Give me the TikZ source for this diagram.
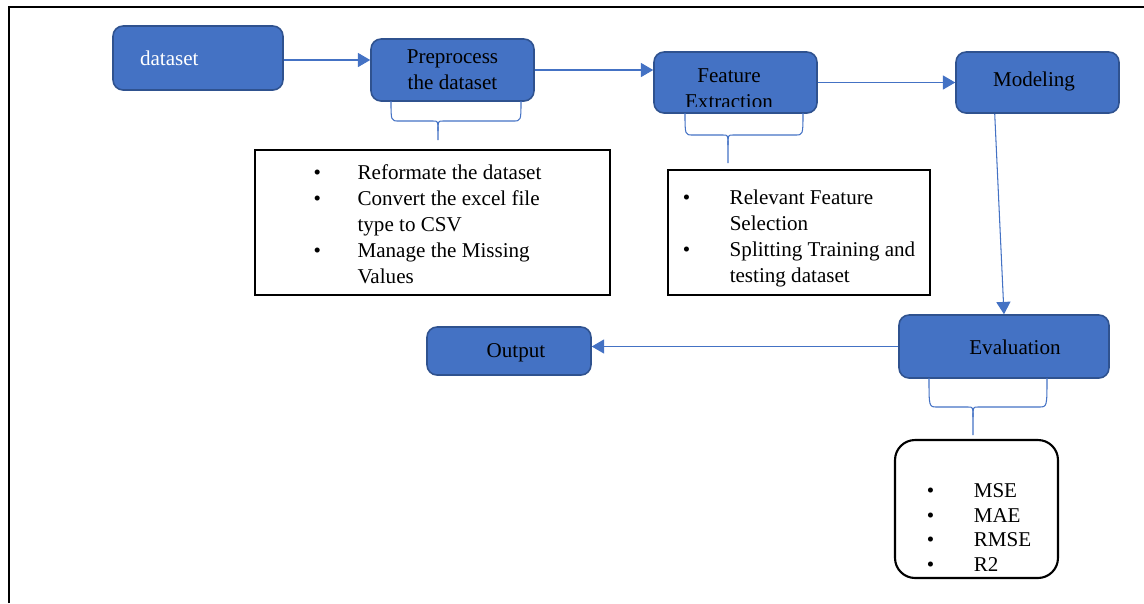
\documentclass[tikz,border=0pt]{standalone}
\usepackage{fontspec}
\setmainfont{Liberation Serif}
\usetikzlibrary{arrows.meta,calc}
\definecolor{boxblue}{HTML}{4472C4}
\definecolor{boxedge}{HTML}{2F528F}
\newcommand{\ubrace}[6]{%
  \draw[brace] (#1,#4) .. controls (#1,#5) .. (#1+8,#5) -- (#3-5,#5) .. controls (#3,#5) .. (#3,#5+10) -- (#3,#6);
  \draw[brace] (#2,#4) .. controls (#2,#5) .. (#2-8,#5) -- (#3+5,#5) .. controls (#3,#5) .. (#3,#5+10);}
\begin{document}
\begin{tikzpicture}[x=0.02cm,y=-0.02cm,
  font=\fontsize{12}{14.8}\selectfont,
  stage/.style={draw=boxedge, line width=0.9pt, fill=boxblue, rounded corners=0.2cm, inner sep=0pt, align=center},
  flow/.style={draw=boxblue, line width=0.6pt, -{Triangle[length=7pt,width=8pt]}},
  brace/.style={draw=boxblue, line width=0.6pt},
  listbox/.style={draw=black, line width=1.2pt, inner sep=0pt}]
\useasboundingbox (0,0) rectangle (1144,603);
\draw[line width=1.2pt] (9,603) -- (9,7) -- (1144,7);

% stages
\node[stage, minimum width=3.4cm, minimum height=1.28cm, text=white, text width=2.32cm, align=left] (data) at (198,58) {dataset};
\node[stage, minimum width=3.26cm, minimum height=1.24cm] (pre) at (452.5,70) {Preprocess\\the dataset};
\node[stage, minimum width=3.26cm, minimum height=1.22cm] (feat) at (735.5,82.5) {};
\begin{scope}
  \clip (655,53) rectangle (816,106);
  \node[align=center] (featlbl) at (729,89) {Feature\\Extraction};
\end{scope}
\node[stage, minimum width=3.26cm, minimum height=1.22cm] (model) at (1037.5,82.5) {};
\node (modellbl) at (1034,81) {Modeling};
\node[stage, minimum width=4.2cm, minimum height=1.26cm] (eval) at (1004,346.5) {};
\node (evallbl) at (1015,347) {Evaluation};
\node[stage, minimum width=3.28cm, minimum height=0.96cm] (out) at (509,351) {};
\node (outlbl) at (516,353) {Output};

% flow arrows
\draw[flow] (data.east) ++(0,2) -- (pre.west |- 0,60);
\draw[flow] (pre.east) -- (pre.east -| feat.west);
\draw[flow] (feat.east) -- (model.west);
\draw[flow] ($(model.south west)!0.24!(model.south east)$) -- (eval.north);
\draw[flow] (eval.west) -- (eval.west -| out.east);

% braces
\ubrace{391}{521}{438}{101}{121}{140}
\ubrace{685}{803}{728}{113}{135}{163}
\ubrace{929}{1047}{973}{378}{407}{435}

% detail boxes
\node[listbox, minimum width=7.1cm, minimum height=2.9cm] (prelist) at (432.5,222.5) {};
\node (prelisttext) at (427.5,226.5) {%
  \begin{tabular}{@{}p{0.88cm}@{}l@{}}
  \textbullet & Reformate the dataset\\
  \textbullet & Convert the excel file\\
              & type to CSV\\
  \textbullet & Manage the Missing\\
              & Values
  \end{tabular}};
\node[listbox, minimum width=5.24cm, minimum height=2.5cm] (featlist) at (799,232.5) {};
\node (featlisttext) at (799,238) {%
  \begin{tabular}{@{}p{0.94cm}@{}l@{}}
  \textbullet & Relevant Feature\\
              & Selection\\
  \textbullet & Splitting Training and\\
              & testing dataset
  \end{tabular}};
\node[listbox, rounded corners=0.4cm, minimum width=3.26cm, minimum height=2.76cm] (evallist) at (976.5,509) {};
\node (evallisttext) at (979,529.5) {%
  \renewcommand{\arraystretch}{0.96}%
  \begin{tabular}{@{}p{0.94cm}@{}l@{}}
  \textbullet & MSE\\
  \textbullet & MAE\\
  \textbullet & RMSE\\
  \textbullet & R2
  \end{tabular}};
\end{tikzpicture}
\end{document}
